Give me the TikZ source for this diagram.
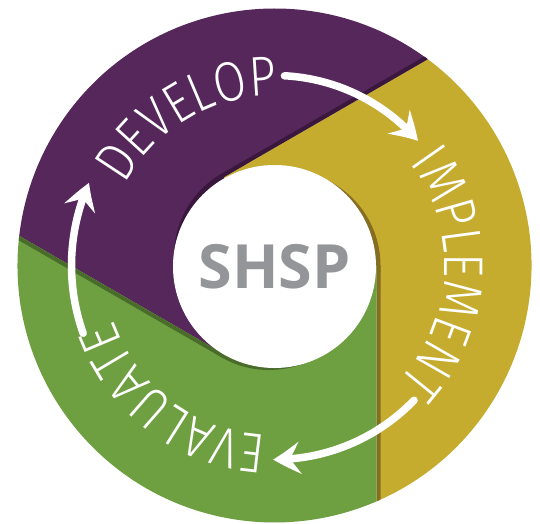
\documentclass[tikz,border=0pt]{standalone}
\usepackage{fontspec}
\setmainfont{Open Sans}
\newfontfamily\ringfont[FakeStretch=0.84]{Fira Sans Light}
\usetikzlibrary{arrows.meta,bending,decorations.text}
\definecolor{shpurple}{RGB}{85,39,91}
\definecolor{shpurpledk}{RGB}{58,24,62}
\definecolor{shyellow}{RGB}{197,172,47}
\definecolor{shyellowdk}{RGB}{133,110,34}
\definecolor{shgreen}{RGB}{110,159,64}
\definecolor{shgreendk}{RGB}{74,108,42}
\definecolor{shgray}{RGB}{148,149,153}
\begin{document}
\begin{tikzpicture}[x=1pt,y=1pt,
    ringtext/.style={decoration={text along path,text align=center,text color=white,
        text={|\ringfont\fontsize{56}{56}\selectfont|#1}},decorate},
    cyclearrow/.style={white,line width=7.5pt,line cap=round,
        -{Stealth[length=27pt,width=32pt,inset=10pt,bend]}}]
    \useasboundingbox (-274.5,-257.5) rectangle (265.5,265.5);
    \foreach \a/\c/\s in {0/shyellow/shyellowdk,120/shpurple/shpurpledk,240/shgreen/shgreendk}{
        \begin{scope}
            \clip (\a:102) -- (\a-66.6:257) arc[start angle=\a-66.6,end angle=\a+53.4,radius=257]
                -- (\a+120:102) -- (0,0) -- cycle;
            \fill[\c] (-300,-300) rectangle (300,300);
            \fill[\s] (\a:11) circle[radius=95];
            \draw[\s,line width=8pt] (\a:102) -- (\a-66.6:257);
        \end{scope}
    }
    \node[circle,fill=white,minimum size=203pt,inner sep=0pt,text=shgray,
        font=\bfseries\fontsize{61}{61}\selectfont] (hub) at (0,-1) {SHSP};
    \path[ringtext=DEVELOP] (170.4:170) arc[start angle=170.4,end angle=70.4,radius=170];
    \path[ringtext=IMPLEMENT] (47.1:170) arc[start angle=47.1,end angle=-52.9,radius=170];
    \path[ringtext=EVALUATE] (283:170) arc[start angle=283,end angle=183,radius=170];
    \coordinate (dev-end) at (87:190);
    \coordinate (imp-end) at (-44:194);
    \coordinate (eva-end) at (199.5:203);
    \draw[cyclearrow] (dev-end) arc[start angle=87,end angle=41,radius=190];
    \draw[cyclearrow] (imp-end) arc[start angle=-44,end angle=-90.4,radius=194];
    \draw[cyclearrow] (eva-end) arc[start angle=199.5,end angle=156,radius=203];
\end{tikzpicture}
\end{document}
